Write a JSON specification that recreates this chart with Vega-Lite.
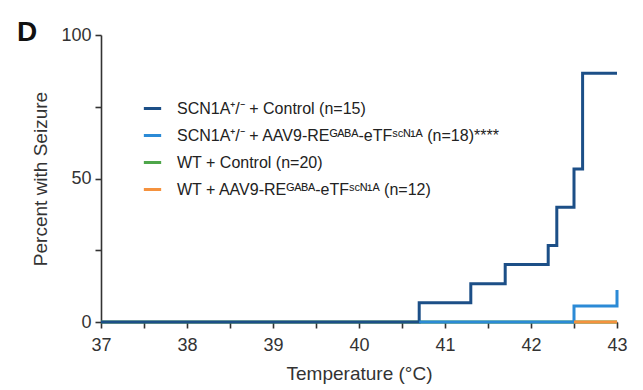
{
  "$schema": "https://vega.github.io/schema/vega-lite/v6.json",
  "width": 516,
  "height": 287,
  "autosize": {"type": "none"},
  "padding": {"left": 101, "top": 35, "right": 26, "bottom": 68},
  "background": "white",
  "config": {
    "view": {"stroke": null},
    "font": "Liberation Sans",
    "axis": {
      "grid": false,
      "domainColor": "#333333",
      "domainWidth": 1.6,
      "tickColor": "#333333",
      "tickWidth": 1.6,
      "tickSize": 6,
      "labelColor": "#333333",
      "labelFont": "Liberation Sans",
      "labelFontSize": 18,
      "titleFont": "Liberation Sans",
      "titleFontSize": 19,
      "titleFontWeight": "normal",
      "titleColor": "#333333"
    }
  },
  "title": {
    "text": "D",
    "anchor": "start",
    "frame": "group",
    "fontSize": 28,
    "fontWeight": "bold",
    "font": "Liberation Sans",
    "color": "#111111",
    "dx": -84,
    "offset": -43,
    "baseline": "alphabetic"
  },
  "data": {
    "values": [
      {"group": "WT + Control (n=20)", "temp": 37, "pct": 0},
      {"group": "WT + Control (n=20)", "temp": 43, "pct": 0},
      {"group": "SCN1A⁺/⁻ + Control (n=15)", "temp": 37, "pct": 0},
      {"group": "SCN1A⁺/⁻ + Control (n=15)", "temp": 40.7, "pct": 6.67},
      {"group": "SCN1A⁺/⁻ + Control (n=15)", "temp": 41.3, "pct": 13.33},
      {"group": "SCN1A⁺/⁻ + Control (n=15)", "temp": 41.7, "pct": 20},
      {"group": "SCN1A⁺/⁻ + Control (n=15)", "temp": 42.2, "pct": 26.67},
      {"group": "SCN1A⁺/⁻ + Control (n=15)", "temp": 42.3, "pct": 40},
      {"group": "SCN1A⁺/⁻ + Control (n=15)", "temp": 42.5, "pct": 53.33},
      {"group": "SCN1A⁺/⁻ + Control (n=15)", "temp": 42.6, "pct": 86.67},
      {"group": "SCN1A⁺/⁻ + Control (n=15)", "temp": 43, "pct": 86.67},
      {"group": "SCN1A⁺/⁻ + AAV9-REᴳᴬᴮᴬ-eTFˢᶜᴺ¹ᴬ (n=18)****", "temp": 40.7, "pct": 0},
      {"group": "SCN1A⁺/⁻ + AAV9-REᴳᴬᴮᴬ-eTFˢᶜᴺ¹ᴬ (n=18)****", "temp": 42.5, "pct": 5.56},
      {"group": "SCN1A⁺/⁻ + AAV9-REᴳᴬᴮᴬ-eTFˢᶜᴺ¹ᴬ (n=18)****", "temp": 43, "pct": 5.56},
      {"group": "SCN1A⁺/⁻ + AAV9-REᴳᴬᴮᴬ-eTFˢᶜᴺ¹ᴬ (n=18)****", "temp": 43, "pct": 11.11},
      {"group": "WT + AAV9-REᴳᴬᴮᴬ-eTFˢᶜᴺ¹ᴬ (n=12)", "temp": 42.5, "pct": 0},
      {"group": "WT + AAV9-REᴳᴬᴮᴬ-eTFˢᶜᴺ¹ᴬ (n=12)", "temp": 43, "pct": 0}
    ]
  },
  "encoding": {
    "x": {
      "field": "temp",
      "type": "quantitative",
      "scale": {"domain": [37, 43], "nice": false, "zero": false},
      "axis": {
        "title": "Temperature (°C)",
        "values": [37, 37.5, 38, 38.5, 39, 39.5, 40, 40.5, 41, 41.5, 42, 42.5, 43],
        "labelExpr": "datum.value % 1 == 0 ? format(datum.value, 'd') : ''",
        "labelOverlap": false,
        "labelPadding": 8,
        "titlePadding": 10,
        "labelFlush": false
      }
    },
    "y": {
      "field": "pct",
      "type": "quantitative",
      "scale": {"domain": [0, 100], "nice": false},
      "axis": {
        "title": "Percent with Seizure",
        "values": [0, 25, 50, 75, 100],
        "labelExpr": "datum.value % 50 == 0 ? datum.label : ''",
        "labelOverlap": false,
        "labelPadding": 4,
        "titlePadding": 10
      }
    },
    "color": {
      "field": "group",
      "type": "nominal",
      "scale": {
        "domain": [
          "SCN1A⁺/⁻ + Control (n=15)",
          "SCN1A⁺/⁻ + AAV9-REᴳᴬᴮᴬ-eTFˢᶜᴺ¹ᴬ (n=18)****",
          "WT + Control (n=20)",
          "WT + AAV9-REᴳᴬᴮᴬ-eTFˢᶜᴺ¹ᴬ (n=12)"
        ],
        "range": ["#1c4f87", "#2b8ad6", "#4ea64a", "#f5923e"]
      },
      "legend": {
        "title": null,
        "orient": "none",
        "legendX": 41,
        "legendY": 63,
        "symbolType": "stroke",
        "symbolStrokeWidth": 3,
        "symbolSize": 300,
        "labelFontSize": 16,
        "labelFont": "Liberation Sans",
        "labelColor": "#222222",
        "labelOffset": 14,
        "rowPadding": 8,
        "labelLimit": 500
      }
    }
  },
  "layer": [
    {"transform": [{"filter": "datum.group == 'WT + Control (n=20)'"}], "mark": {"type": "line", "interpolate": "step-after", "strokeWidth": 3}},
    {"transform": [{"filter": "datum.group == 'SCN1A⁺/⁻ + Control (n=15)'"}], "mark": {"type": "line", "interpolate": "step-after", "strokeWidth": 3}},
    {"transform": [{"filter": "datum.group == 'SCN1A⁺/⁻ + AAV9-REᴳᴬᴮᴬ-eTFˢᶜᴺ¹ᴬ (n=18)****'"}], "mark": {"type": "line", "interpolate": "step-after", "strokeWidth": 3}},
    {"transform": [{"filter": "datum.group == 'WT + AAV9-REᴳᴬᴮᴬ-eTFˢᶜᴺ¹ᴬ (n=12)'"}], "mark": {"type": "line", "interpolate": "step-after", "strokeWidth": 3}}
  ]
}
